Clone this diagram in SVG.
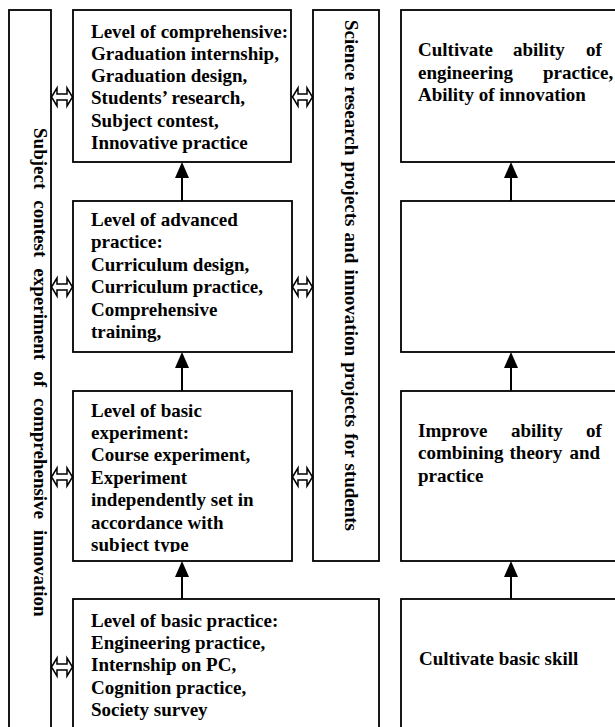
<svg xmlns="http://www.w3.org/2000/svg" width="615" height="727" viewBox="0 0 615 727">
<style>
.box{fill:#fff;stroke:#000;stroke-width:1.8}
.t{font-family:"Liberation Serif","Times New Roman",serif;font-weight:bold;font-size:19px;fill:#000}
.arr{stroke:#000;stroke-width:2;fill:none}
.dbl{fill:#fff;stroke:#000;stroke-width:1.5;stroke-linejoin:miter}
</style>
<defs>
<marker id="head" markerUnits="userSpaceOnUse" markerWidth="16" markerHeight="14" viewBox="0 0 16 14" refX="0" refY="7" orient="auto">
<path d="M0,0 L16,7 L0,14 Z" fill="#000"/>
</marker>
<clipPath id="clip3"><rect x="73" y="391" width="219" height="161"/></clipPath>
</defs>
<rect width="615" height="727" fill="#fff"/>

<g id="bar-left">
<rect class="box" x="9" y="10" width="42" height="730"/>
<text class="t" transform="translate(34,128) rotate(90)" word-spacing="6.3">Subject contest experiment of comprehensive innovation</text>
</g>

<g id="bar-mid">
<rect class="box" x="313" y="10" width="66" height="551"/>
<text class="t" transform="translate(344.5,20) rotate(90)" word-spacing="1.4">Science research projects and innovation projects for students</text>
</g>

<g id="level-comprehensive">
<rect class="box" x="73" y="10" width="218" height="152"/>
<text class="t" x="91" y="37.5">Level of comprehensive:</text>
<text class="t" x="91" y="59.8">Graduation internship,</text>
<text class="t" x="91" y="82.1">Graduation design,</text>
<text class="t" x="91" y="104.4">Students’ research,</text>
<text class="t" x="91" y="126.7">Subject contest,</text>
<text class="t" x="91" y="149">Innovative practice</text>
</g>

<g id="level-advanced">
<rect class="box" x="73" y="201" width="219" height="151"/>
<text class="t" x="91" y="226">Level of advanced</text>
<text class="t" x="91" y="248.4">practice:</text>
<text class="t" x="91" y="270.8">Curriculum design,</text>
<text class="t" x="91" y="293.2">Curriculum practice,</text>
<text class="t" x="91" y="315.6">Comprehensive</text>
<text class="t" x="91" y="338">training,</text>
</g>

<g id="level-basic-experiment">
<rect class="box" x="73" y="391" width="219" height="170"/>
<g clip-path="url(#clip3)">
<text class="t" x="91" y="416.5">Level of basic</text>
<text class="t" x="91" y="439">experiment:</text>
<text class="t" x="91" y="461.4">Course experiment,</text>
<text class="t" x="91" y="483.8">Experiment</text>
<text class="t" x="91" y="506.2">independently set in</text>
<text class="t" x="91" y="528.6">accordance with</text>
<text class="t" x="91" y="551">subject type</text>
</g>
</g>

<g id="level-basic-practice">
<rect class="box" x="73" y="599" width="306" height="140"/>
<text class="t" x="91" y="626.5">Level of basic practice:</text>
<text class="t" x="91" y="648.9">Engineering practice,</text>
<text class="t" x="91" y="671.3">Internship on PC,</text>
<text class="t" x="91" y="693.7">Cognition practice,</text>
<text class="t" x="91" y="716">Society survey</text>
</g>

<g id="goal-innovation">
<rect class="box" x="401" y="10" width="230" height="152"/>
<text class="t" y="56"><tspan x="418">Cultivate</tspan><tspan x="513">ability</tspan><tspan x="586">of</tspan></text>
<text class="t" y="78.5"><tspan x="418">engineering</tspan><tspan x="543">practice,</tspan></text>
<text class="t" x="418" y="101">Ability of innovation</text>
</g>

<g id="goal-empty">
<rect class="box" x="401" y="201" width="230" height="151"/>
</g>

<g id="goal-theory">
<rect class="box" x="401" y="391" width="230" height="170"/>
<text class="t" y="437"><tspan x="418">Improve</tspan><tspan x="511">ability</tspan><tspan x="586">of</tspan></text>
<text class="t" y="459.3"><tspan x="418">combining</tspan><tspan x="509.5">theory</tspan><tspan x="569.5">and</tspan></text>
<text class="t" x="418" y="481.6">practice</text>
</g>

<g id="goal-basic">
<rect class="box" x="401" y="599" width="230" height="140"/>
<text class="t" x="419" y="665">Cultivate basic skill</text>
</g>

<g id="connectors">
<line class="arr" x1="182" y1="201" x2="182" y2="178" marker-end="url(#head)"/>
<line class="arr" x1="182" y1="391" x2="182" y2="368" marker-end="url(#head)"/>
<line class="arr" x1="182" y1="599" x2="182" y2="577" marker-end="url(#head)"/>
<line class="arr" x1="511" y1="201" x2="511" y2="178" marker-end="url(#head)"/>
<line class="arr" x1="511" y1="391" x2="511" y2="368" marker-end="url(#head)"/>
<line class="arr" x1="511" y1="599" x2="511" y2="577" marker-end="url(#head)"/>
<path class="dbl" d="M51.5,97 L57,88 L57,94 L67,94 L67,88 L72.5,97 L67,106 L67,100 L57,100 L57,106 Z"/>
<path class="dbl" d="M51.5,287 L57,278 L57,284 L67,284 L67,278 L72.5,287 L67,296 L67,290 L57,290 L57,296 Z"/>
<path class="dbl" d="M51.5,477 L57,468 L57,474 L67,474 L67,468 L72.5,477 L67,486 L67,480 L57,480 L57,486 Z"/>
<path class="dbl" d="M51.5,667 L57,658 L57,664 L67,664 L67,658 L72.5,667 L67,676 L67,670 L57,670 L57,676 Z"/>
<path class="dbl" d="M292.5,97 L298,88 L298,94 L307,94 L307,88 L312.5,97 L307,106 L307,100 L298,100 L298,106 Z"/>
<path class="dbl" d="M292.5,287 L298,278 L298,284 L307,284 L307,278 L312.5,287 L307,296 L307,290 L298,290 L298,296 Z"/>
<path class="dbl" d="M292.5,477 L298,468 L298,474 L307,474 L307,468 L312.5,477 L307,486 L307,480 L298,480 L298,486 Z"/>
</g>
</svg>
